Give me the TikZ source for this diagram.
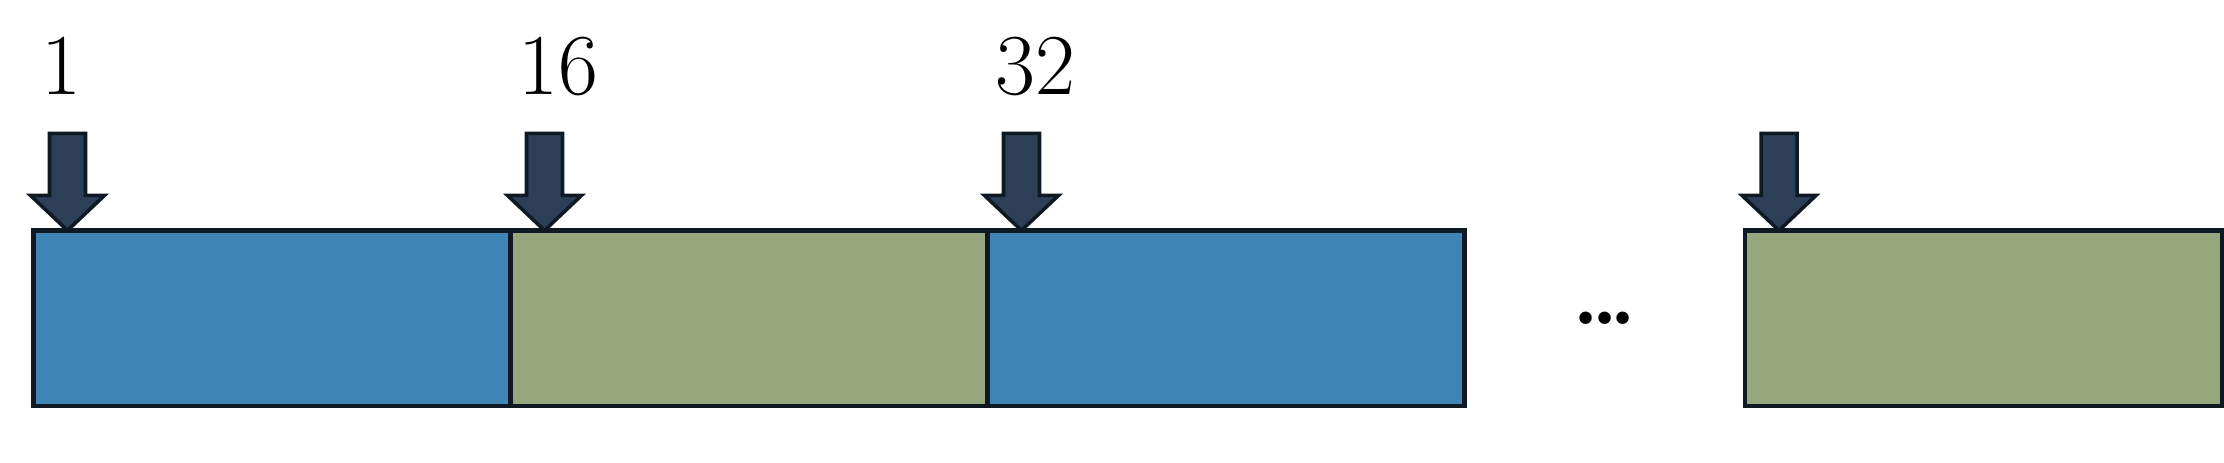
\documentclass[tikz,border=0pt]{standalone}
\usepackage{tikz}
\usetikzlibrary{positioning,calc}
\definecolor{segblue}{HTML}{3F86B5}
\definecolor{seggreen}{HTML}{96A77E}
\definecolor{ptrfill}{HTML}{2C3F56}
\definecolor{edgeink}{HTML}{0F1923}

\begin{document}
\begin{tikzpicture}[
  seg/.style={draw=edgeink, line width=1.3pt, minimum width=4.77cm, minimum height=1.755cm, inner sep=0pt, outer sep=0pt},
  ptr/.style={draw=edgeink, fill=ptrfill, line width=1pt, line join=miter},
  idx/.style={anchor=base west, inner sep=0pt, font=\fontsize{24.7}{30}\selectfont},
  node distance=0cm
]
\useasboundingbox (0,0) rectangle (22.24,4.63);
% Segments
\node[seg, fill=segblue, anchor=north west] (b1) at (0.335,2.325) {};
\node[seg, fill=seggreen, right=0cm of b1] (b2) {};
\node[seg, fill=segblue, right=0cm of b2] (b3) {};
\node[seg, fill=seggreen, right=2.805cm of b3] (b4) {};
% Gap between segments
\node[font=\fontsize{24.7}{30}\selectfont\bfseries, inner sep=0pt] (gap) at ($(b3.east)!0.5!(b4.west)$) {.\kern-0.1em.\kern-0.1em.};

% Block arrows
\foreach \b in {b1,b2,b3,b4} {
  \coordinate (\b-tip) at ($(\b.north west)+(0.34,0)$);
  \draw[ptr] (\b-tip) -- ++(-0.37,0.35) -- ++(0.19,0) -- ++(0,0.62) -- ++(0.36,0) -- ++(0,-0.62) -- ++(0.19,0) -- cycle;
}
% Start indices
\foreach \b/\t in {b1/1,b2/16,b3/32}
  \node[idx] (\b-idx) at ($(\b.north west)+(0.07,1.355)$) {\t};
\end{tikzpicture}
\end{document}
